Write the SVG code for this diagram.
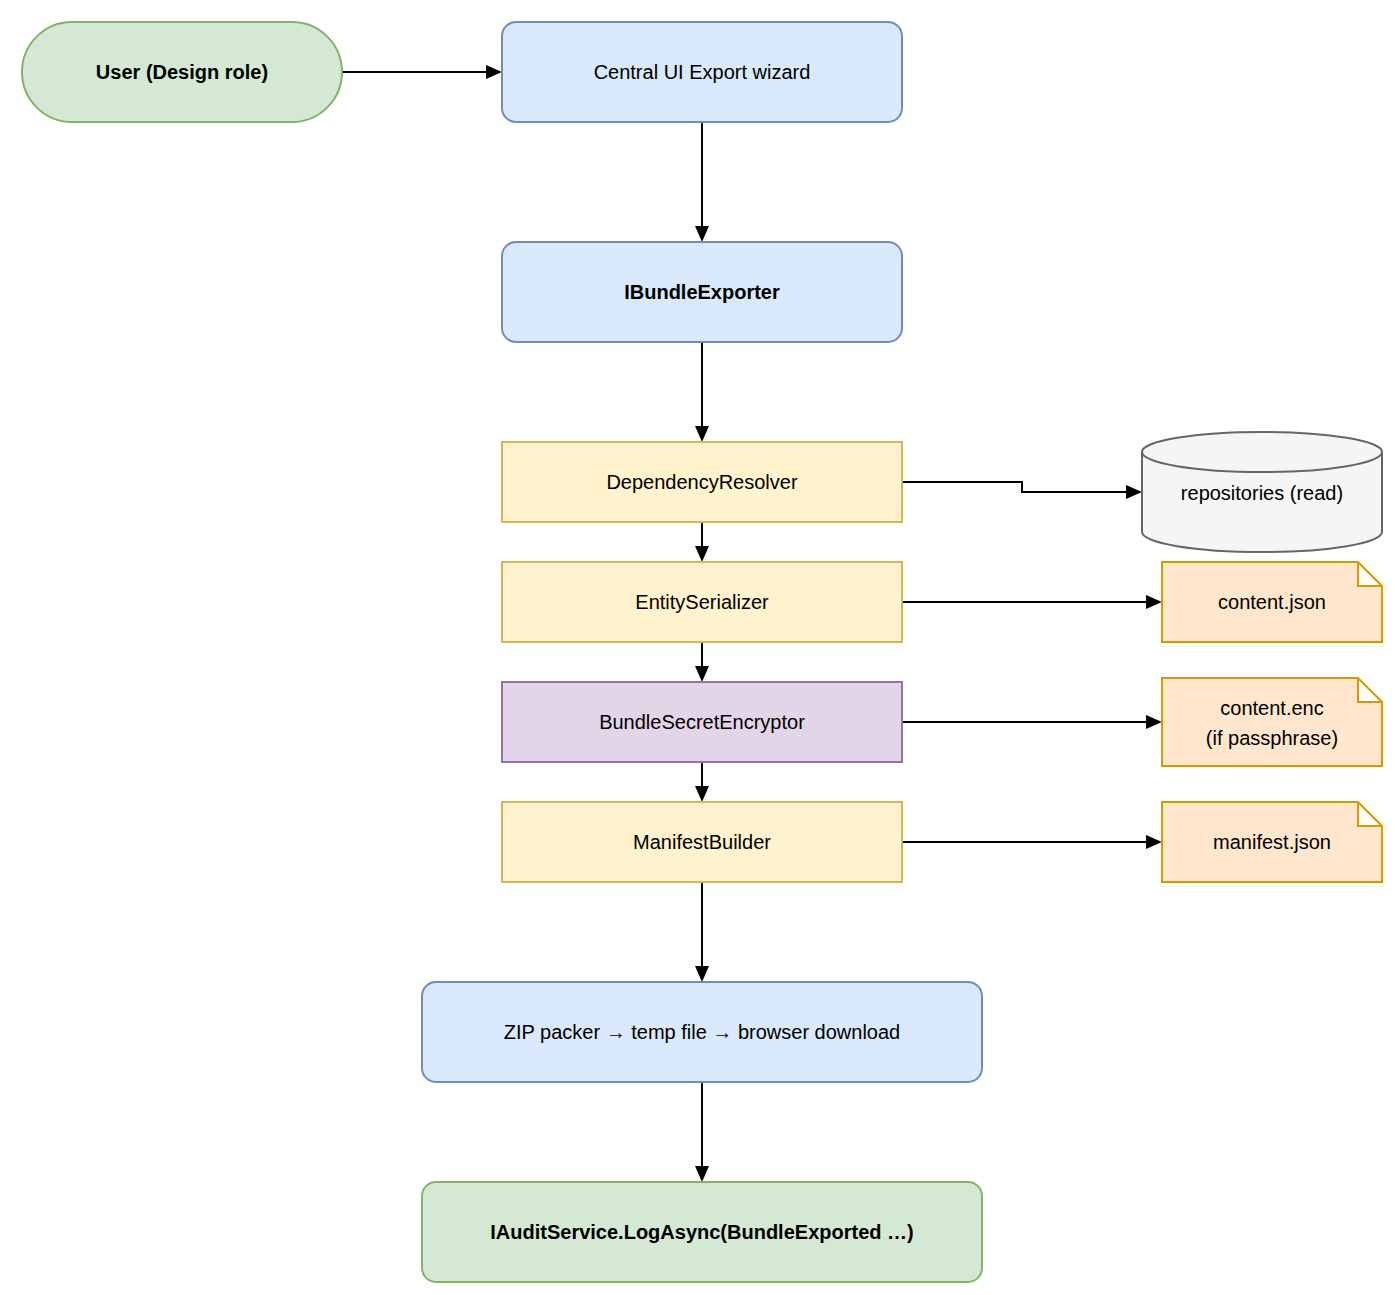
<svg xmlns="http://www.w3.org/2000/svg" width="1395" height="1295" viewBox="0 0 1395 1295">
<style>
text{font-family:"Liberation Sans",Arial,sans-serif;font-size:20px;fill:#000;text-anchor:middle;dominant-baseline:central}
.b{font-weight:bold}
.blue{fill:#dae8fc;stroke:#6c8ebf;stroke-width:2}
.green{fill:#d5e8d4;stroke:#82b366;stroke-width:2}
.yel{fill:#fff2cc;stroke:#d6b656;stroke-width:2}
.pur{fill:#e1d5e7;stroke:#9673a6;stroke-width:2}
.note{fill:#ffe6cc;stroke:#d79b00;stroke-width:2}
.cyl{fill:#f5f5f5;stroke:#666;stroke-width:2}
.c{fill:none;stroke:#000;stroke-width:2;marker-end:url(#a)}
</style>
<defs><marker id="a" viewBox="0 0 10 10" refX="10" refY="5" markerWidth="8" markerHeight="8" markerUnits="userSpaceOnUse" orient="auto"><path d="M0,0L10,5L0,10z" fill="#000"/></marker>
<marker id="a2" viewBox="0 0 10 10" refX="10" refY="5" markerWidth="16" markerHeight="16" orient="auto"><path d="M0,0L10,5L0,10z"/></marker></defs>
<g id="connectors">
<path class="c" d="M342,72H500" style="marker-end:none"/><path d="M486,65L502,72L486,79z"/>
<path class="c" d="M702,122V240" style="marker-end:none"/><path d="M695,226L702,242L709,226z"/>
<path class="c" d="M702,342V440" style="marker-end:none"/><path d="M695,426L702,442L709,426z"/>
<path class="c" d="M702,522V560" style="marker-end:none"/><path d="M695,546L702,562L709,546z"/>
<path class="c" d="M702,642V680" style="marker-end:none"/><path d="M695,666L702,682L709,666z"/>
<path class="c" d="M702,762V800" style="marker-end:none"/><path d="M695,786L702,802L709,786z"/>
<path class="c" d="M702,882V980" style="marker-end:none"/><path d="M695,966L702,982L709,966z"/>
<path class="c" d="M702,1082V1180" style="marker-end:none"/><path d="M695,1166L702,1182L709,1166z"/>
<path class="c" d="M902,482H1022V492H1140" style="marker-end:none"/><path d="M1126,485L1142,492L1126,499z"/>
<path class="c" d="M902,602H1160" style="marker-end:none"/><path d="M1146,595L1162,602L1146,609z"/>
<path class="c" d="M902,722H1160" style="marker-end:none"/><path d="M1146,715L1162,722L1146,729z"/>
<path class="c" d="M902,842H1160" style="marker-end:none"/><path d="M1146,835L1162,842L1146,849z"/>
</g>
<g id="user"><rect class="green" x="22" y="22" width="320" height="100" rx="50"/><text class="b" x="182" y="72">User (Design role)</text></g>
<g id="wizard"><rect class="blue" x="502" y="22" width="400" height="100" rx="14"/><text x="702" y="72">Central UI Export wizard</text></g>
<g id="exporter"><rect class="blue" x="502" y="242" width="400" height="100" rx="14"/><text class="b" x="702" y="292">IBundleExporter</text></g>
<g id="resolver"><rect class="yel" x="502" y="442" width="400" height="80"/><text x="702" y="482">DependencyResolver</text></g>
<g id="serializer"><rect class="yel" x="502" y="562" width="400" height="80"/><text x="702" y="602">EntitySerializer</text></g>
<g id="encryptor"><rect class="pur" x="502" y="682" width="400" height="80"/><text x="702" y="722">BundleSecretEncryptor</text></g>
<g id="manifest"><rect class="yel" x="502" y="802" width="400" height="80"/><text x="702" y="842">ManifestBuilder</text></g>
<g id="zip"><rect class="blue" x="422" y="982" width="560" height="100" rx="14"/><text x="702" y="1032">ZIP packer → temp file → browser download</text></g>
<g id="audit"><rect class="green" x="422" y="1182" width="560" height="100" rx="14"/><text class="b" x="702" y="1232">IAuditService.LogAsync(BundleExported …)</text></g>
<g id="repos"><path class="cyl" d="M1142,452V532A120,20 0 0 0 1382,532V452A120,20 0 0 0 1142,452A120,20 0 0 0 1382,452"/><text x="1262" y="493">repositories (read)</text></g>
<g id="contentjson"><path class="note" d="M1162,562H1358L1382,586V642H1162Z M1358,562V586H1382"/><text x="1272" y="602">content.json</text></g>
<g id="contentenc"><path class="note" d="M1162,678H1358L1382,702V766H1162Z M1358,678V702H1382"/><text x="1272" y="708">content.enc</text><text x="1272" y="738">(if passphrase)</text></g>
<g id="manifestjson"><path class="note" d="M1162,802H1358L1382,826V882H1162Z M1358,802V826H1382"/><text x="1272" y="842">manifest.json</text></g>
</svg>
